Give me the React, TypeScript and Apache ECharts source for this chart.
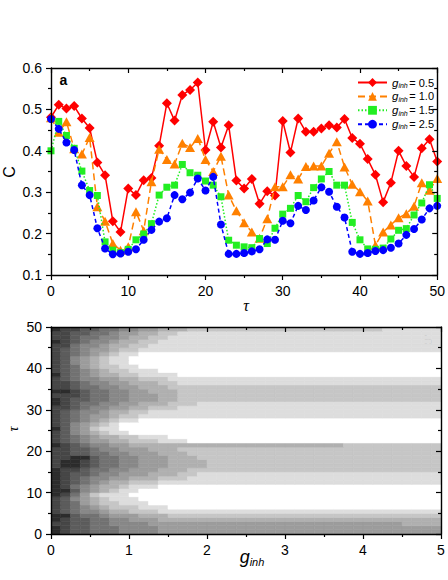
import React, { useEffect, useRef } from "react";
import * as echarts from "echarts";

const tau = [0,1,2,3,4,5,6,7,8,9,10,11,12,13,14,15,16,17,18,19,20,21,22,23,24,25,26,27,28,29,30,31,32,33,34,35,36,37,38,39,40,41,42,43,44,45,46,47,48,49,50];

const cG05 = [0.481,0.511,0.502,0.508,0.478,0.455,0.372,0.341,0.230,0.204,0.309,0.293,0.329,0.334,0.412,0.515,0.473,0.535,0.547,0.565,0.402,0.470,0.408,0.462,0.328,0.309,0.332,0.272,0.302,0.292,0.472,0.396,0.478,0.446,0.446,0.454,0.462,0.456,0.477,0.431,0.417,0.380,0.342,0.276,0.323,0.400,0.363,0.337,0.406,0.428,0.374];
const cG10 = [0.480,0.445,0.470,0.405,0.392,0.432,0.265,0.230,0.176,0.160,0.168,0.253,0.207,0.325,0.404,0.379,0.368,0.418,0.408,0.430,0.379,0.350,0.387,0.293,0.255,0.226,0.204,0.189,0.236,0.313,0.313,0.342,0.332,0.362,0.363,0.363,0.394,0.422,0.361,0.319,0.301,0.279,0.172,0.204,0.221,0.238,0.248,0.266,0.323,0.305,0.333];
const cG15 = [0.400,0.471,0.437,0.406,0.351,0.304,0.292,0.180,0.160,0.154,0.162,0.185,0.199,0.224,0.293,0.312,0.317,0.367,0.347,0.341,0.327,0.317,0.289,0.184,0.172,0.168,0.166,0.188,0.176,0.213,0.247,0.261,0.292,0.277,0.311,0.332,0.350,0.317,0.317,0.227,0.185,0.163,0.162,0.165,0.187,0.208,0.212,0.245,0.274,0.318,0.285];
const cG25 = [0.477,0.453,0.420,0.402,0.317,0.293,0.213,0.164,0.150,0.152,0.156,0.162,0.185,0.209,0.229,0.237,0.293,0.283,0.299,0.333,0.304,0.337,0.222,0.151,0.151,0.153,0.157,0.162,0.186,0.185,0.231,0.225,0.267,0.257,0.280,0.312,0.301,0.265,0.239,0.156,0.151,0.153,0.158,0.160,0.166,0.176,0.197,0.211,0.234,0.261,0.267];

const gValues = ["0.5", "1.0", "1.5", "2.5"];

// contour map: one string per tau row (row 0 = tau 0..1), one char per g column (0.125 wide, g 0..5)
// level 0 = white ... 9 = darkest
const gStep = 0.125;
const tauStep = 1;
const contourRows = [
  "9877666555544444" + "444444444444444444444444",
  "9877666555544444" + "444444444444444444444444",
  "8877665555444444" + "444444444444444444443333",
  "9877665544433333" + "333333333333333333333333",
  "9976654443332222" + "222222222222222222222222",
  "8765543322211111" + "111111111111111111111111",
  "8765432221110000" + "000000000000000000000000",
  "8764322111000000" + "000000000000000000000000",
  "8754321110000000" + "000000000000000000000000",
  "9864211100000000" + "000000000000000000000000",
  "9975432110000000" + "000000000000000000000000",
  "9865433211100000" + "000000000000000000000000",
  "9876543322211111" + "111111111111111111111111",
  "9876554433322211" + "111111111111111111111111",
  "9877655444333221" + "111111111111111111111111",
  "9887665544433322" + "222222222222222222222222",
  "8998766554443333" + "222222222222222222222222",
  "8998766554443333" + "222222222222222222222222",
  "8899766554443332" + "222222222222222222222222",
  "8877665544433322" + "222222222222222222222222",
  "8877655444333222" + "222222222222222222222222",
  "9876554433333333" + "333333333333332222222222",
  "8765443322211100" + "000000000000000000000000",
  "8765433221110000" + "000000000000000000000000",
  "8754321100000000" + "000000000000000000000000",
  "9754211000000000" + "000000000000000000000000",
  "8754321000000000" + "000000000000000000000000",
  "8765432110000000" + "000000000000000000000000",
  "8765443221111111" + "111111111111111111111111",
  "8765543322111111" + "111111111111111111111111",
  "8876554433222111" + "111111111111111111111111",
  "9876655443332221" + "111111111111111111111111",
  "9877665544433222" + "222222222222222222222222",
  "8887665544433222" + "222222222222222222222222",
  "9987665544333222" + "222222222222222222222222",
  "8876655443332222" + "222222222222222222222222",
  "8876554433322111" + "111111111111111111111111",
  "8765544332221111" + "111111111111111111111111",
  "9765433221111000" + "000000000000000000000000",
  "8765432211100000" + "000000000000000000000000",
  "8764322110000000" + "000000000000000000000000",
  "8754321100000000" + "000000000000000000000000",
  "8754321100000000" + "000000000000000000000000",
  "8765432110000000" + "000000000000000000000000",
  "8765443221111111" + "111111111111111111111111",
  "8865543322111111" + "111111111111111111111111",
  "9876554332211111" + "111111111111111111111111",
  "8876655433221111" + "111111111111111111111111",
  "8877665443322111" + "111111111111111111111111",
  "9887766554433322" + "222222222222222222111111",
];
const grayLevels = ["#ffffff", "#dddddd", "#c6c6c6", "#b0b0b0", "#9c9c9c", "#888888", "#727272", "#5c5c5c", "#464646", "#2c2c2c"];

const FONT = "Liberation Sans";

export default function App() {
  const ref = useRef<HTMLDivElement>(null);
  useEffect(() => {
    if (!ref.current) return;
    const chart = echarts.init(ref.current, null, { renderer: "svg" });

    const cells: number[][] = [];
    contourRows.forEach((row, r) => {
      for (let c = 0; c < row.length; c++) {
        cells.push([c * gStep, (c + 1) * gStep, r * tauStep, (r + 1) * tauStep, Number(row[c])]);
      }
    });

    const lineSeries = [
      { vals: cG05, color: "#ff0000", symbol: "diamond", size: [10, 10], type: "solid" },
      { vals: cG10, color: "#ff8000", symbol: "triangle", size: [10, 9], type: [7, 4] },
      { vals: cG15, color: "#22ee22", symbol: "rect", size: [7, 7], type: [1.5, 2] },
      { vals: cG25, color: "#0000ff", symbol: "circle", size: [8, 8], type: [4, 3] },
    ];

    const axisLine = { show: true, onZero: false, lineStyle: { color: "#000", width: 1.4 } };
    const tickStyle = { color: "#000", width: 1.2 };
    const label = { fontSize: 14, color: "#000", fontFamily: FONT };

    const mkAxis = (gi: number, min: number, max: number, interval: number, position: string, mirror: boolean, fmt?: (v: number) => string) => ({
      type: "value", gridIndex: gi, min, max, interval, position, z: 10,
      axisLine,
      axisTick: { show: true, inside: mirror, length: 5, lineStyle: tickStyle },
      minorTick: { show: true, splitNumber: 2, length: 3, lineStyle: tickStyle },
      axisLabel: mirror ? { show: false } : { ...label, margin: 9, formatter: fmt },
      splitLine: { show: false },
    });

    const option: any = {
      animation: false,
      backgroundColor: "#ffffff",
      grid: [
        { left: 51, top: 68, width: 390, height: 207 },
        { left: 51, top: 327, width: 390, height: 207 },
      ],
      xAxis: [
        mkAxis(0, 0, 50, 10, "bottom", false, (v: number) => String(Math.round(v))),
        mkAxis(0, 0, 50, 10, "top", true),
        mkAxis(1, 0, 5, 1, "bottom", false, (v: number) => String(Math.round(v))),
        mkAxis(1, 0, 5, 1, "top", true),
      ],
      yAxis: [
        mkAxis(0, 0.1, 0.6, 0.1, "left", false, (v: number) => v.toFixed(1)),
        mkAxis(0, 0.1, 0.6, 0.1, "right", true),
        mkAxis(1, 0, 50, 10, "left", false, (v: number) => String(Math.round(v))),
        mkAxis(1, 0, 50, 10, "right", true),
      ],
      legend: {
        orient: "vertical", left: 355, top: 71.5, itemWidth: 29, itemHeight: 11, itemGap: 1.6, padding: [5, 5, 5, 2],
        data: gValues.map((v) => "g" + v),
        formatter: (name: string) => `{g|g}{s|inh}{v|= ${name.slice(1)}}`,
        textStyle: {
          color: "#000",
          rich: {
            g: { fontSize: 11.5, fontStyle: "italic", fontFamily: FONT, lineHeight: 12.6, color: "#000" },
            s: { fontSize: 7, fontStyle: "italic", fontFamily: FONT, lineHeight: 8, verticalAlign: "bottom", color: "#000" },
            v: { fontSize: 11, fontFamily: FONT, lineHeight: 12.6, color: "#000", padding: [0, 0, 0, 1.5] },
          },
        },
      },
      series: [
        {
          type: "custom", name: "contour", xAxisIndex: 2, yAxisIndex: 2, silent: true, clip: true,
          encode: { x: [0, 1], y: [2, 3] },
          data: cells,
          renderItem: (params: any, api: any) => {
            const p0 = api.coord([api.value(0), api.value(3)]);
            const p1 = api.coord([api.value(1), api.value(2)]);
            const col = grayLevels[api.value(4)];
            return {
              type: "rect",
              shape: { x: p0[0], y: p0[1], width: p1[0] - p0[0], height: p1[1] - p0[1] },
              style: { fill: col, stroke: col, lineWidth: 0.6 },
            };
          },
          z: 1,
        },
        ...lineSeries.map((s, i) => ({
          type: "line", name: "g" + gValues[i], xAxisIndex: 0, yAxisIndex: 0,
          data: tau.map((t, k) => [t, s.vals[k]]),
          symbol: s.symbol, symbolSize: s.size, showAllSymbol: true,
          lineStyle: { color: s.color, width: 1.5, type: s.type },
          itemStyle: { color: s.color, borderWidth: 0 },
          z: 3 + i,
        })),
      ],
      graphic: [
        { type: "text", x: 9, y: 172, rotation: Math.PI / 2, style: { text: "C", fontSize: 16, fontFamily: FONT, fill: "#000", align: "center", verticalAlign: "middle" } },
        { type: "text", x: 246, y: 305, style: { text: "τ", fontSize: 16, fontStyle: "italic", fontFamily: "Liberation Serif", fill: "#000", align: "center", verticalAlign: "middle" } },
        { type: "text", x: 13, y: 429, rotation: Math.PI / 2, style: { text: "τ", fontSize: 14, fontStyle: "italic", fontFamily: "Liberation Serif", fill: "#000", align: "center", verticalAlign: "middle" } },
        {
          type: "text", x: 252, y: 557,
          style: {
            text: "{g|g}{s|inh}", align: "center", verticalAlign: "middle",
            rich: {
              g: { fontSize: 18, fontStyle: "italic", fontFamily: FONT, fill: "#000", lineHeight: 20 },
              s: { fontSize: 11, fontStyle: "italic", fontFamily: FONT, fill: "#000", lineHeight: 11, verticalAlign: "bottom" },
            },
          },
        },
        { type: "text", x: 63.5, y: 80, style: { text: "a", fontSize: 14, fontWeight: "bold", fontFamily: FONT, fill: "#000", align: "center", verticalAlign: "middle" } },
        { type: "text", x: 428, y: 341, style: { text: "b", fontSize: 14, fontWeight: "bold", fontFamily: FONT, fill: "#000", align: "center", verticalAlign: "middle" } },
      ],
    };
    chart.setOption(option);
    return () => chart.dispose();
  }, []);
  return <div ref={ref} style={{ position: "fixed", left: 0, top: 0, width: 448, height: 580, background: "#fff" }} />;
}
